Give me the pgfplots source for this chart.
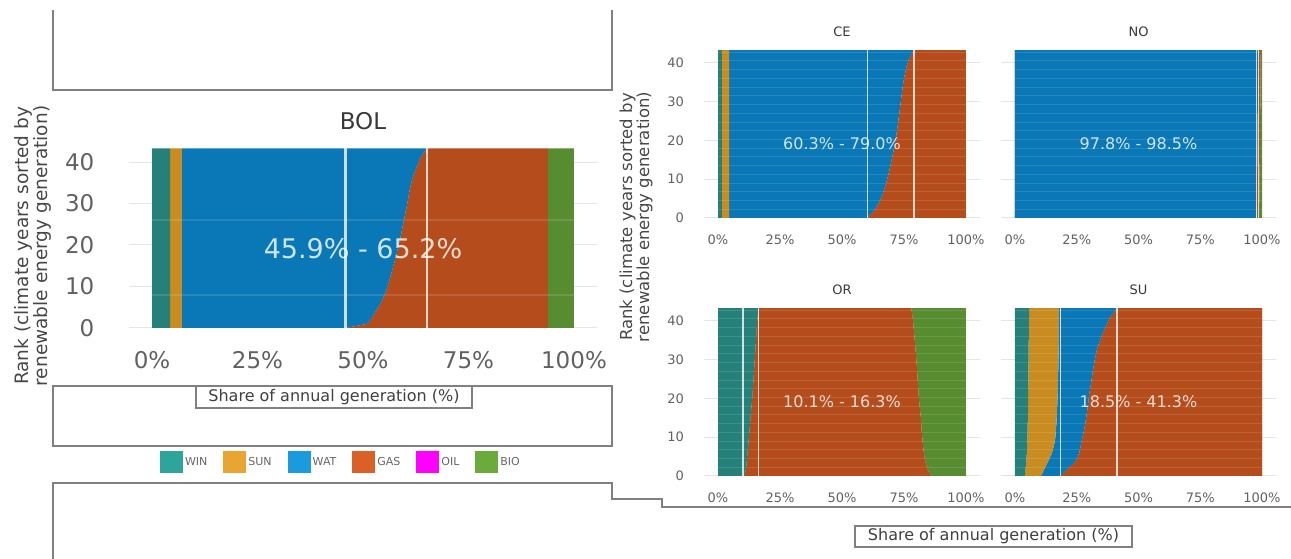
\documentclass[border=0pt]{standalone}
\usepackage{pgfplots}
\pgfplotsset{compat=1.18}
\usepackage{pgfplotstable}
\usepackage{fontspec}
\setmainfont{DejaVu Sans}

% series colours (areas)
\definecolor{cWIN}{RGB}{38,128,122}
\definecolor{cSUN}{RGB}{200,140,32}
\definecolor{cWAT}{RGB}{10,120,182}
\definecolor{cGAS}{RGB}{180,76,28}
\definecolor{cBIO}{RGB}{88,140,48}
% legend swatches
\definecolor{lWIN}{RGB}{45,165,155}
\definecolor{lSUN}{RGB}{232,165,50}
\definecolor{lWAT}{RGB}{25,155,222}
\definecolor{lGAS}{RGB}{218,96,40}
\definecolor{lOIL}{RGB}{255,0,255}
\definecolor{lBIO}{RGB}{108,170,60}
\definecolor{boxgray}{RGB}{128,128,128}

% shares of annual generation (%) by rank of climate year;
% column z is the zero baseline the stack starts from
\pgfplotstableread{
r    z win sun wat  gas  bio
0    0 4.3 2.8 38.8 47.9 6.2
1    0 4.3 2.8 43.9 42.8 6.2
2    0 4.3 2.8 44.7 42.0 6.2
4    0 4.3 2.8 45.9 40.8 6.2
6    0 4.3 2.8 47.1 39.6 6.2
9    0 4.3 2.8 48.4 38.3 6.2
12   0 4.3 2.8 49.3 37.4 6.2
15   0 4.3 2.8 50.1 36.6 6.2
18   0 4.3 2.8 50.9 35.8 6.2
21   0 4.3 2.8 51.6 35.1 6.2
24   0 4.3 2.8 52.2 34.5 6.2
27   0 4.3 2.8 52.8 33.9 6.2
30   0 4.3 2.8 53.4 33.3 6.2
33   0 4.3 2.8 53.9 32.8 6.2
36   0 4.3 2.8 54.6 32.1 6.2
39   0 4.3 2.8 55.7 31.0 6.2
41   0 4.3 2.8 56.5 30.2 6.2
42   0 4.3 2.8 57.1 29.6 6.2
43.3 0 4.3 2.8 58.1 28.6 6.2
}\tBOL

\pgfplotstableread{
r    z win sun wat  gas  bio
0    0 1.5 3.0 55.8 39.7 0
1    0 1.5 3.0 57.0 38.5 0
2    0 1.5 3.0 58.5 37.0 0
4    0 1.5 3.0 60.5 35.0 0
6    0 1.5 3.0 61.8 33.7 0
9    0 1.5 3.0 63.3 32.2 0
12   0 1.5 3.0 64.5 31.0 0
15   0 1.5 3.0 65.5 30.0 0
18   0 1.5 3.0 66.5 29.0 0
21   0 1.5 3.0 67.3 28.2 0
24   0 1.5 3.0 68.0 27.5 0
27   0 1.5 3.0 68.6 26.9 0
30   0 1.5 3.0 69.2 26.3 0
33   0 1.5 3.0 69.8 25.7 0
36   0 1.5 3.0 70.5 25.0 0
39   0 1.5 3.0 71.5 24.0 0
41   0 1.5 3.0 72.5 23.0 0
42   0 1.5 3.0 73.3 22.2 0
43.3 0 1.5 3.0 74.5 21.0 0
}\tCE

\pgfplotstableread{
r    z win sun wat  gas bio
0    0 0   0   97.8 1.0 1.2
10   0 0   0   98.0 1.0 1.0
20   0 0   0   98.2 1.0 0.8
30   0 0   0   98.3 1.0 0.7
43.3 0 0   0   98.5 1.0 0.5
}\tNO

\pgfplotstableread{
r    z win  sun wat gas  bio
0    0 10.1 0   0   75.9 14.0
1    0 11.0 0   0   74.0 15.0
2    0 11.3 0   0   73.0 15.7
4    0 11.6 0   0   71.9 16.5
6    0 11.9 0   0   71.1 17.0
9    0 12.3 0   0   70.2 17.5
12   0 12.7 0   0   69.4 17.9
15   0 13.1 0   0   68.7 18.2
18   0 13.5 0   0   67.8 18.7
21   0 13.9 0   0   67.0 19.1
24   0 14.2 0   0   66.4 19.4
27   0 14.5 0   0   65.8 19.7
30   0 14.8 0   0   65.2 20.0
33   0 15.1 0   0   64.5 20.4
36   0 15.4 0   0   63.8 20.8
39   0 15.7 0   0   63.1 21.2
41   0 15.9 0   0   62.6 21.5
42   0 16.1 0   0   62.1 21.8
43.3 0 16.3 0   0   61.7 22.0
}\tOR

\pgfplotstableread{
r    z win sun  wat  gas  bio
0    0 4.0 6.5  8.0  81.5 0
1    0 4.1 7.2  8.6  80.1 0
2    0 4.3 7.7  9.5  78.5 0
4    0 4.6 9.0  11.2 75.2 0
6    0 4.8 10.2 11.0 74.0 0
9    0 5.0 11.2 10.8 73.0 0
12   0 5.1 11.5 11.4 72.0 0
15   0 5.2 11.7 11.9 71.2 0
18   0 5.3 11.8 12.4 70.5 0
21   0 5.3 12.0 12.7 70.0 0
24   0 5.4 12.0 13.4 69.2 0
27   0 5.4 12.1 14.0 68.5 0
30   0 5.5 12.1 14.7 67.7 0
33   0 5.5 12.2 15.6 66.7 0
36   0 5.6 12.2 17.2 65.0 0
39   0 5.6 12.2 19.2 63.0 0
41   0 5.7 12.2 20.6 61.5 0
42   0 5.7 12.2 21.9 60.2 0
43.3 0 5.7 12.2 23.4 58.7 0
}\tSU

\pgfplotsset{
  panel/.style={scale only axis,
    xmin=-5.5, xmax=105.5, ymin=-2.2, ymax=45.5,
    axis line style={draw=none}, major tick style={draw=none},
    xtick={0,25,50,75,100}, xticklabels={0\%,25\%,50\%,75\%,100\%},
    ytick={0,10,20,30,40},
    ymajorgrids, grid style={draw=black!10, line width=1pt},
    /pgf/number format/assume math mode=true,
    tick label style={text=black!62}},
  bigpanel/.style={panel, width=468.4pt, height=197.9pt,
    tick label style={font=\fontsize{23}{23}\selectfont},
    xticklabel style={anchor=base, yshift=-31.3pt},
    yticklabel style={anchor=east, xshift=-31pt},
    title style={at={(0.5,1)}, anchor=base, yshift=3.7pt,
      font=\fontsize{23}{23}\selectfont, text=black!78}},
  smallpanel/.style={panel, height=184.9pt,
    tick label style={font=\fontsize{13}{13}\selectfont},
    xticklabel style={anchor=base, yshift=-18.4pt},
    yticklabel style={anchor=east, xshift=-17pt},
    title style={at={(0.5,1)}, anchor=base, yshift=-1pt,
      font=\fontsize{13}{13}\selectfont, text=black!78}},
  % right-hand column shares the rank axis of its neighbour
  sharedy/.style={yticklabels={{},{},{},{},{}}},
  % same geometry, no decorations: carries the overlays
  overlayaxis/.style={hide axis, ymajorgrids=false},
  rangeline/.style={forget plot, white, opacity=0.78},
  stripe/.style={forget plot, xcomb, white, opacity=0.12},
}

% stacked shares: WIN, SUN, WAT, GAS, (OIL = 0), BIO
\newcommand{\stackareas}[1]{%
  \addplot[draw=none, forget plot] table[x=z, y=r]{#1};
  \addplot[fill=cWIN, draw=none] table[x=win, y=r]{#1} \closedcycle;
  \addplot[fill=cSUN, draw=none] table[x=sun, y=r]{#1} \closedcycle;
  \addplot[fill=cWAT, draw=none] table[x=wat, y=r]{#1} \closedcycle;
  \addplot[fill=cGAS, draw=none] table[x=gas, y=r]{#1} \closedcycle;
  \addplot[fill=cBIO, draw=none] table[x=bio, y=r]{#1} \closedcycle;
}
\newcommand{\smallstripes}{%
  \addplot[stripe, line width=1pt] coordinates {(100,2.25) (100,4.5) (100,6.75)
    (100,9) (100,11.25) (100,13.5) (100,15.75) (100,18) (100,20.25) (100,22.5)
    (100,24.75) (100,27) (100,29.25) (100,31.5) (100,33.75) (100,36) (100,38.25)
    (100,40.5) (100,42.75)};
}
% renewable share range: two lines and their label
\newcommand{\rangemarks}[4]{%
  \addplot[rangeline, line width=#3] coordinates {(#1,0) (#1,43.3)};
  \addplot[rangeline, line width=#3] coordinates {(#2,0) (#2,43.3)};
  \node[text=white, text opacity=0.8, font=#4] at (axis cs:50,19.2) {#1\% - #2\%};
}

\begin{document}
\begin{tikzpicture}[x=1pt, y=1pt]
\path[use as bounding box] (0,0) rectangle (1291,559);

% frames around the left column
\draw[boxgray, line width=1.2pt] (53,549) -- (53,469) -- (612,469) -- (612,549);
\draw[boxgray, line width=1.2pt] (53,113) rectangle (612,173);
\draw[boxgray, line width=1.2pt] (53,0) -- (53,76) -- (612,76) -- (612,60)
  -- (662,60) -- (662,52) -- (1291,52);

% ---------------- BOL ----------------
\begin{axis}[bigpanel, stack plots=x, at={(128.8pt,221.9pt)}, anchor=south west, title={BOL}]
  \stackareas{\tBOL}
\end{axis}
\begin{axis}[bigpanel, overlayaxis, at={(128.8pt,221.9pt)}, anchor=south west]
  \addplot[stripe, line width=2pt] coordinates {(100,8) (100,26)};
  \rangemarks{45.9}{65.2}{2.6pt}{\fontsize{27}{27}\selectfont}
\end{axis}

\node[rotate=90, align=center, text=black!72, font=\fontsize{18.5}{19}\selectfont]
  at (33,313) {Rank (climate years sorted by\\renewable energy generation)};

\node[draw=boxgray, line width=1.1pt, fill=white, minimum width=276pt,
  minimum height=22pt, inner sep=0pt, text=black!75, font=\fontsize{16}{16}\selectfont]
  at (334,162) {Share of annual generation (\%)};

% legend
\begin{axis}[hide axis, scale only axis, width=10pt, height=10pt,
  at={(341pt,97pt)}, anchor=center, xmin=0, xmax=1, ymin=0, ymax=1,
  legend columns=6,
  legend style={at={(0.5,0.5)}, anchor=center, draw=none, fill=none,
    font=\fontsize{11}{11}\selectfont, text=black!60, column sep=0pt,
    /tikz/every even column/.append style={column sep=14pt}},
  legend image code/.code={\fill[#1, draw=none] (0pt,-11pt) rectangle (23pt,11pt);}]
  \addlegendimage{fill=lWIN} \addlegendentry{WIN}
  \addlegendimage{fill=lSUN} \addlegendentry{SUN}
  \addlegendimage{fill=lWAT} \addlegendentry{WAT}
  \addlegendimage{fill=lGAS} \addlegendentry{GAS}
  \addlegendimage{fill=lOIL} \addlegendentry{OIL}
  \addlegendimage{fill=lBIO} \addlegendentry{BIO}
\end{axis}

% ---------------- CE ----------------
\begin{axis}[smallpanel, stack plots=x, width=275.2pt, at={(704.4pt,332.5pt)}, anchor=south west, title={CE}]
  \stackareas{\tCE}
\end{axis}
\begin{axis}[smallpanel, overlayaxis, width=275.2pt, at={(704.4pt,332.5pt)}, anchor=south west]
  \smallstripes
  \rangemarks{60.3}{79.0}{1.6pt}{\fontsize{16}{16}\selectfont}
\end{axis}

% ---------------- NO ----------------
\begin{axis}[smallpanel, sharedy, stack plots=x, width=274.2pt, at={(1001.4pt,332.5pt)}, anchor=south west, title={NO}]
  \stackareas{\tNO}
\end{axis}
\begin{axis}[smallpanel, overlayaxis, width=274.2pt, at={(1001.4pt,332.5pt)}, anchor=south west]
  \smallstripes
  \rangemarks{97.8}{98.5}{1.6pt}{\fontsize{16}{16}\selectfont}
\end{axis}

% ---------------- OR ----------------
\begin{axis}[smallpanel, stack plots=x, width=275.2pt, at={(704.4pt,74.5pt)}, anchor=south west, title={OR}]
  \stackareas{\tOR}
\end{axis}
\begin{axis}[smallpanel, overlayaxis, width=275.2pt, at={(704.4pt,74.5pt)}, anchor=south west]
  \smallstripes
  \rangemarks{10.1}{16.3}{1.6pt}{\fontsize{16}{16}\selectfont}
\end{axis}

% ---------------- SU ----------------
\begin{axis}[smallpanel, sharedy, stack plots=x, width=274.2pt, at={(1001.4pt,74.5pt)}, anchor=south west, title={SU}]
  \stackareas{\tSU}
\end{axis}
\begin{axis}[smallpanel, overlayaxis, width=274.2pt, at={(1001.4pt,74.5pt)}, anchor=south west]
  \smallstripes
  \rangemarks{18.5}{41.3}{1.6pt}{\fontsize{16}{16}\selectfont}
\end{axis}

\node[rotate=90, align=center, text=black!72, font=\fontsize{16.5}{17}\selectfont]
  at (636,342) {Rank (climate years sorted by\\renewable energy generation)};

\node[draw=boxgray, line width=1.1pt, fill=white, minimum width=277pt,
  minimum height=21pt, inner sep=0pt, text=black!75, font=\fontsize{16}{16}\selectfont]
  at (993.5,22.5) {Share of annual generation (\%)};
\end{tikzpicture}
\end{document}
